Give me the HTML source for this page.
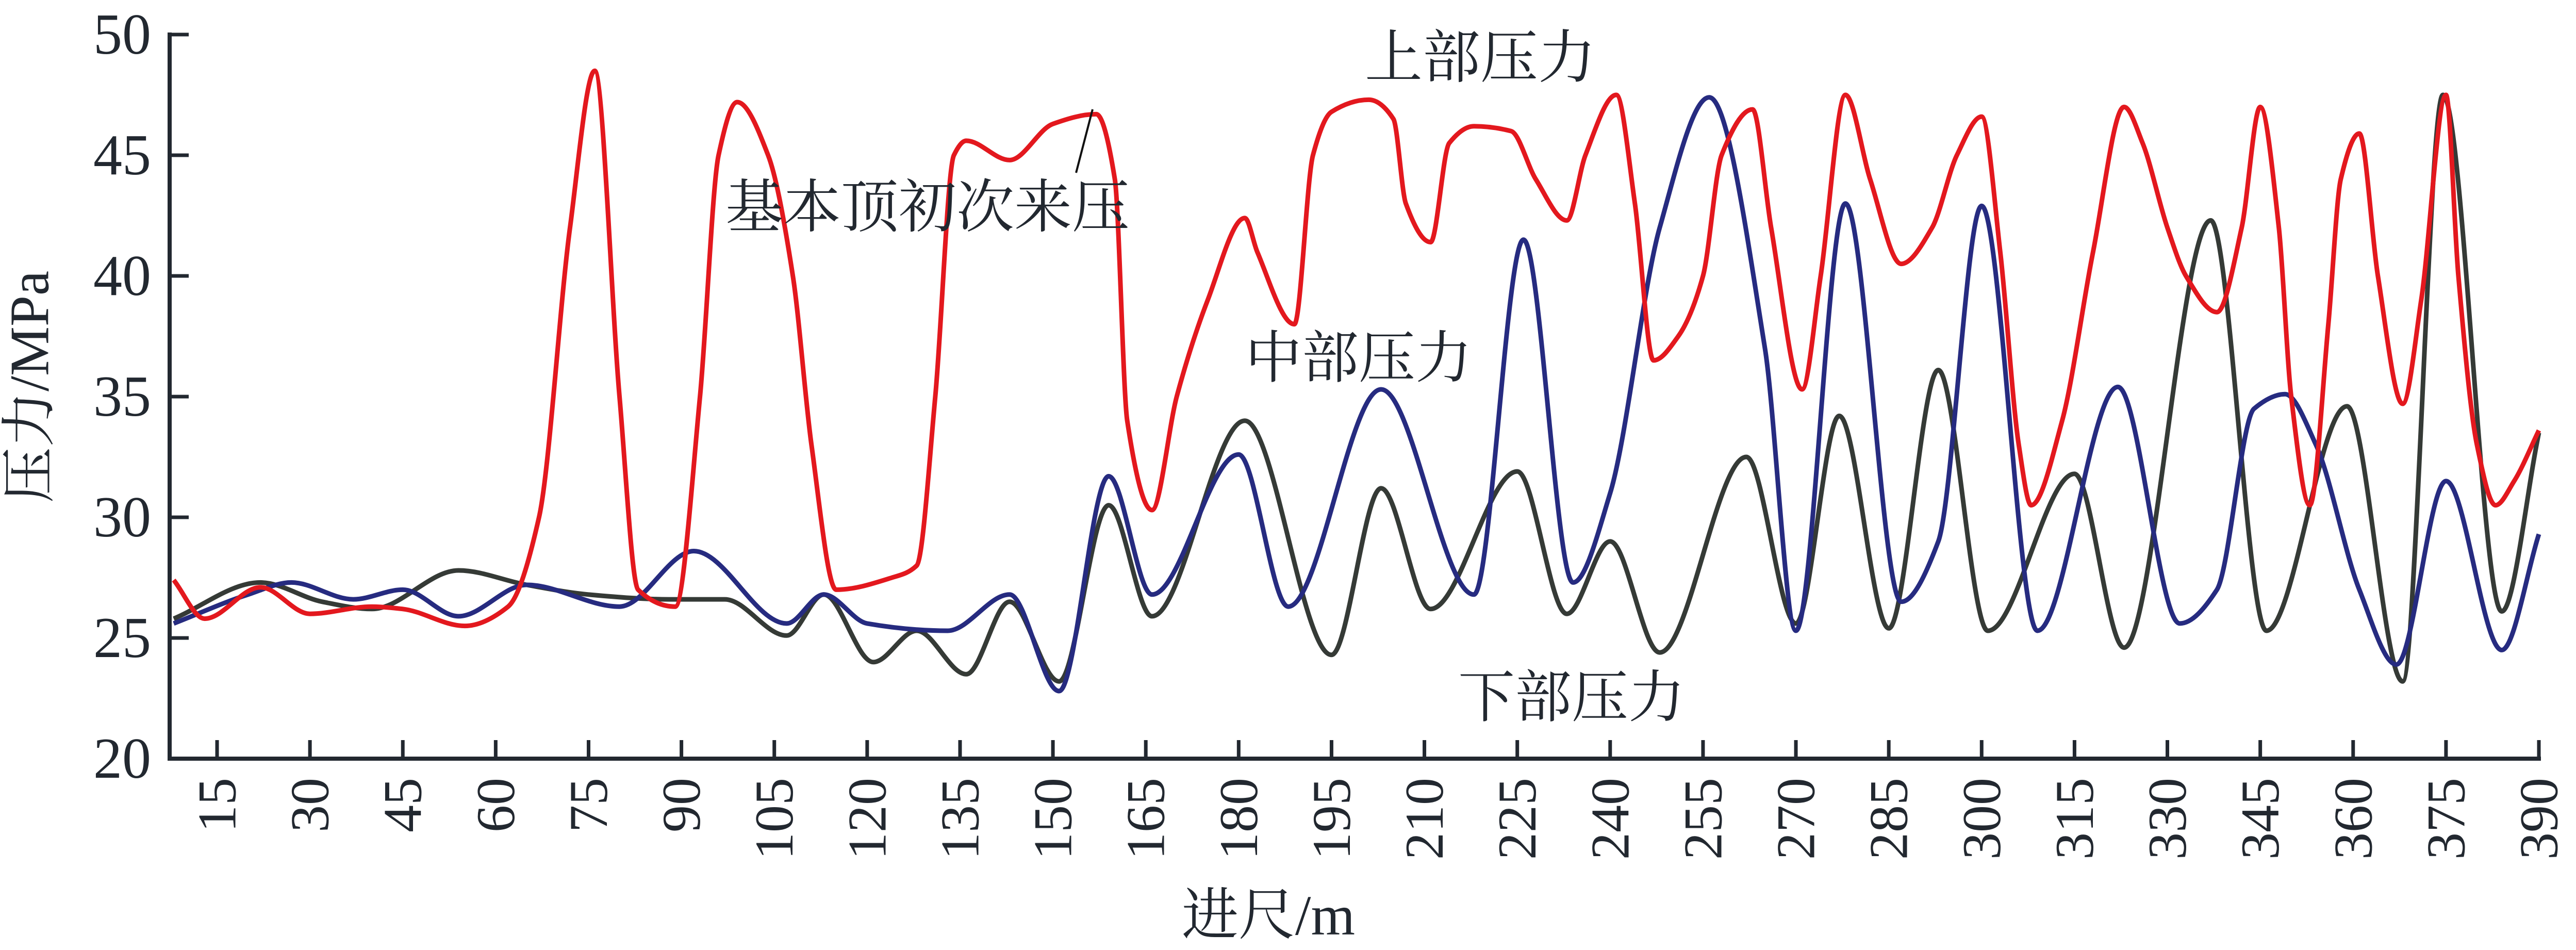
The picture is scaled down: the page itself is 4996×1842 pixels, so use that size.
<!DOCTYPE html>
<html><head><meta charset="utf-8"><style>
html,body{margin:0;padding:0;background:#fff;}
svg{display:block;}
text{font-family:"Liberation Serif","Noto Serif CJK SC",serif;fill:#222830;}
</style></head><body>
<svg id="chart" width="4996" height="1842" viewBox="0 0 4996 1842" xmlns="http://www.w3.org/2000/svg">
<g id="axes"></g>
<g id="series"></g>
<text x="58" y="750" font-size="108" text-anchor="middle" dominant-baseline="central" transform="rotate(-90 58 750)">压力/MPa</text>
<text x="2460" y="1812" font-size="110" text-anchor="middle">进尺/m</text>
<text x="2647" y="150" font-size="112">上部压力</text>
<text x="2415" y="732" font-size="110">中部压力</text>
<text x="2828" y="1390" font-size="110">下部压力</text>
<text x="1407" y="440" font-size="112">基本顶初次来压</text>
<line x1="2119" y1="212" x2="2087" y2="335" stroke="#111" stroke-width="4"/>
</svg>
<script>
const xTicks = [15,30,45,60,75,90,105,120,135,150,165,180,195,210,225,240,255,270,285,300,315,330,345,360,375,390];
const yTicks = [20,25,30,35,40,45,50];

const upperX = [8,13,22,30,40,45,55,62,67,72,76,80,83,89,93,96,99,104,108,111,115,124,128,131,134,136,143,150,157,160,162,166,170,175,181,183,189,192,195,201,205,207,211,214,218,224,228,233,236,241,244,247,251,255,258,263,266,271,274,278,282,287,292,296,300,303,306,308,313,318,323,326,330,333,338,342,345,348,350,353,356,358,361,364,368,371,375,377,380,383,386,390];
const upperV = [27.4,25.8,27.1,26.0,26.3,26.2,25.5,26.3,30,42,48.5,35,27,26.3,35,45,47.2,45,40,33,27,27.5,28,35,45,45.6,44.8,46.3,46.7,44,34,30.3,35,39,42.4,41,38,45,46.8,47.3,46.5,43,41.4,45.5,46.2,46,44,42.3,45,47.5,43,36.5,37.5,40,45,46.9,42,35.3,40,47.5,44,40.5,42,45,46.6,41,33,30.5,34,41,47,45.5,42,40,38.5,42,47,42,35,30.5,38,44,45.9,40,34.7,39,47.5,40,33,30.5,31.5,33.6];

const middleX = [8,20,27,37,45,54,65,80,92,107,113,120,133,143,151,159,166,180,188,203,218,226,234,240,248,256,265,270,278,287,293,300,309,322,332,338,344,349,354,361,367,375,384,390];
const middleV = [25.6,26.8,27.3,26.6,27.0,25.9,27.2,26.3,28.6,25.6,26.8,25.6,25.3,26.8,22.8,31.7,26.8,32.6,26.3,35.3,26.8,41.5,27.3,31,42,47.4,37,25.3,43,26.5,29,42.9,25.3,35.4,25.6,27,34.5,35.1,33,27,23.9,31.5,24.5,29.3];

const lowerX = [8,22,32,40,54,65,75,88,97,107,113,121,128,136,143,151,159,166,181,195,203,211,225,233,240,248,262,270,277,285,293,301,315,323,337,346,359,368,374.5,384,390];
const lowerV = [25.8,27.3,26.5,26.2,27.8,27.2,26.8,26.6,26.6,25.1,26.8,24.0,25.3,23.5,26.5,23.2,30.5,25.9,34,24.3,31.2,26.2,31.9,26,29,24.4,32.5,25.6,34.2,25.4,36.1,25.3,31.8,24.6,42.3,25.3,34.6,23.2,47.5,26.1,33.5];

const NS = "http://www.w3.org/2000/svg";
function xs(v){ return 421 + (v - 15) * 12.008; }
function ys(v){ return 67 + (50 - v) * 46.8; }

const axes = document.getElementById('axes');
function mk(tag, attrs, parent){
  const e = document.createElementNS(NS, tag);
  for (const k in attrs) e.setAttribute(k, attrs[k]);
  parent.appendChild(e);
  return e;
}
let e;
e = mk('line', {x1:329, y1:ys(50)-4, x2:329, y2:ys(20)+4, stroke:'#222830', 'stroke-width':8}, axes);


e = mk('line', {x1:325, y1:ys(20), x2:4928, y2:ys(20), stroke:'#222830', 'stroke-width':8}, axes);



yTicks.forEach(function(t){
  const y = ys(t);
  let tk = mk('line', {x1:329, y1:y, x2:366, y2:y, stroke:'#222830', 'stroke-width':7}, axes);
  
  
  let lb = mk('text', {x:293, y:y, 'font-size':112, 'text-anchor':'end', 'dominant-baseline':'central'}, axes);
  lb.textContent = t;
  
  
});
xTicks.forEach(function(t){
  const x = xs(t);
  let tk = mk('line', {x1:x, y1:ys(20), x2:x, y2:ys(20)-36, stroke:'#222830', 'stroke-width':7}, axes);
  
  
  let lb = mk('text', {x:x, y:1508, 'font-size':106, 'text-anchor':'end', 'dominant-baseline':'central', transform:'rotate(-90 '+x+' 1508)'}, axes);
  lb.textContent = t;
  
  
});

function monoPath(X, V){
  const n = X.length, px = X.map(xs), py = V.map(ys);
  const d = [], m = new Array(n);
  for (let i=0;i<n-1;i++) d.push((py[i+1]-py[i])/(px[i+1]-px[i]));
  m[0]=d[0]; m[n-1]=d[n-2];
  for (let i=1;i<n-1;i++){
    if (d[i-1]*d[i] <= 0) m[i]=0;
    else { const w1=2*(px[i+1]-px[i])+(px[i]-px[i-1]), w2=(px[i+1]-px[i])+2*(px[i]-px[i-1]);
      m[i]=(w1+w2)/(w1/d[i-1]+w2/d[i]); }
  }
  let s = 'M'+px[0].toFixed(1)+','+py[0].toFixed(1);
  for (let i=0;i<n-1;i++){
    const h=(px[i+1]-px[i])/3;
    s += ' C'+(px[i]+h).toFixed(1)+','+(py[i]+m[i]*h).toFixed(1)+' '+(px[i+1]-h).toFixed(1)+','+(py[i+1]-m[i+1]*h).toFixed(1)+' '+px[i+1].toFixed(1)+','+py[i+1].toFixed(1);
  }
  return s;
}
const sg = document.getElementById('series');
let p;
p = mk('path', {d:monoPath(lowerX, lowerV), fill:'none', stroke:'#353a36', 'stroke-width':9, 'stroke-linejoin':'round'}, sg);


p = mk('path', {d:monoPath(middleX, middleV), fill:'none', stroke:'#262b80', 'stroke-width':9, 'stroke-linejoin':'round'}, sg);


p = mk('path', {d:monoPath(upperX, upperV), fill:'none', stroke:'#e3181e', 'stroke-width':9, 'stroke-linejoin':'round'}, sg);


</script>
</body></html>
